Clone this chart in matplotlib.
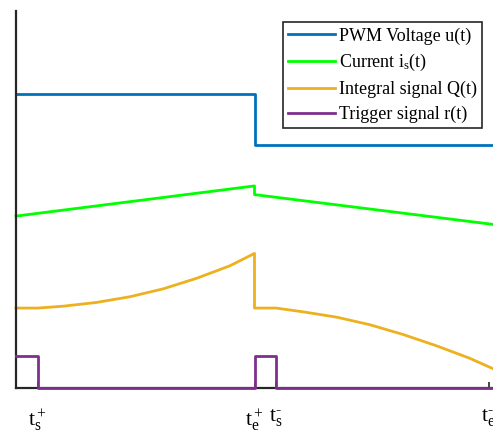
import matplotlib
matplotlib.use('Agg')
import matplotlib.pyplot as plt

plt.rcParams['font.family'] = 'Liberation Serif'
plt.rcParams['mathtext.fontset'] = 'custom'
plt.rcParams['mathtext.rm'] = 'Liberation Serif'
plt.rcParams['mathtext.it'] = 'Liberation Serif:italic'

# time instants
ts_p, te_p, ts_m, te_m = 1.0, 11.0, 12.0, 21.8
t_end = 22.0

# PWM voltage u(t)
u_t = [0.0, te_p, te_p, t_end]
u_y = [7.80, 7.80, 6.45, 6.45]

# current i_s(t)
i_t = [0.0, te_p, te_p, t_end]
i_y = [4.56, 5.36, 5.13, 4.34]

# integral signal Q(t)
q_t = [0.0, 1.0, 2.18, 3.72, 5.25, 6.79, 8.33, 9.86, 11.0, 11.0, 12.0,
       13.24, 14.78, 16.31, 17.85, 19.39, 20.92, 21.97]
q_y = [2.12, 2.12, 2.17, 2.27, 2.42, 2.63, 2.91, 3.24, 3.57, 2.12, 2.12,
       2.02, 1.88, 1.68, 1.42, 1.12, 0.79, 0.52]

# trigger signal r(t)
r_t = [0.0, ts_p, ts_p, te_p, te_p, ts_m, ts_m, t_end]
r_y = [0.85, 0.85, 0.0, 0.0, 0.85, 0.85, 0.0, 0.0]

tick_pos = [ts_p, te_p, ts_m, te_m]
tick_lbl = [r'$\mathrm{t}_\mathrm{s}^+$', r'$\mathrm{t}_\mathrm{e}^+$',
            r'$\mathrm{t}_\mathrm{s}^{\text{-}}$', r'$\mathrm{t}_\mathrm{e}^{\text{-}}$']

fig = plt.figure(figsize=(4.93, 4.30), dpi=100)
ax = fig.add_axes([16/493, 42/430, 477/493, 377/430])

lw = 2.0
ax.plot(u_t, u_y, color='#0072BD', lw=lw, label='PWM Voltage u(t)', clip_on=False)
ax.plot(i_t, i_y, color='#00FF00', lw=lw, label=r'Current $\mathrm{i}_\mathrm{s}$(t)', clip_on=False)
ax.plot(q_t, q_y, color='#EDB120', lw=lw, label='Integral signal Q(t)', clip_on=False)
ax.plot(r_t, r_y, color='#7E2F8E', lw=lw, label='Trigger signal r(t)', clip_on=False, zorder=5)

ax.set_xlim(0, t_end)
ax.set_ylim(0, 10)
ax.set_xticks(tick_pos)
ax.set_xticklabels(tick_lbl, fontsize=16)
ax.set_yticks([])
ax.tick_params(axis='x', direction='in', length=4, width=1.2, pad=14, color='#262626')
for s in ['top', 'right']:
    ax.spines[s].set_visible(False)
for s in ['left', 'bottom']:
    ax.spines[s].set_linewidth(1.6)
    ax.spines[s].set_color('#262626')

leg = ax.legend(loc='upper right', fontsize=13, fancybox=False, framealpha=1,
                edgecolor='#262626', handlelength=2.6, handletextpad=0.2,
                borderaxespad=0.6, borderpad=0.3, labelspacing=0.42)
leg.get_frame().set_linewidth(1.2)

fig.savefig('out.png', dpi=100)
